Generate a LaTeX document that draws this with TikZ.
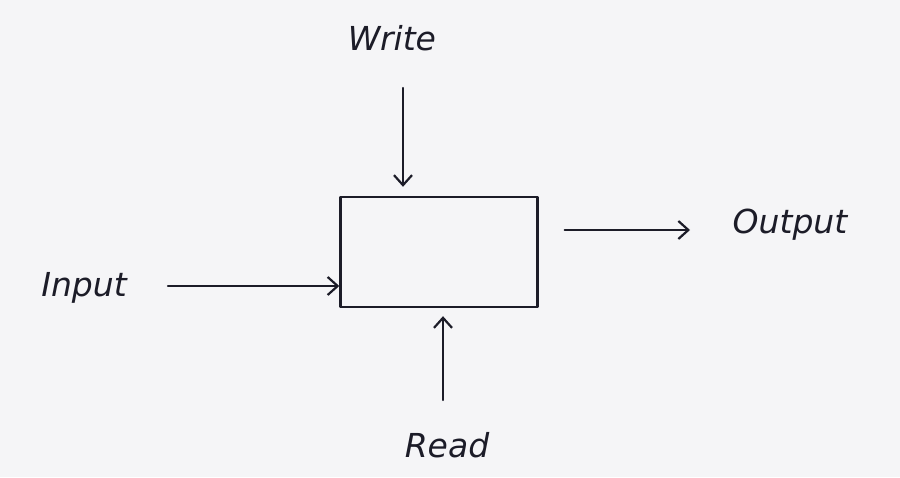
\documentclass[tikz,border=0pt]{standalone}
\usepackage{fontspec}
\setmainfont{DejaVu Sans}
\usetikzlibrary{arrows.meta}
\definecolor{paper}{HTML}{F5F5F7}
\definecolor{ink}{HTML}{1C1C28}
\begin{document}
\begin{tikzpicture}[x=1pt,y=1pt,
  ink line/.style={draw=ink, line width=2.4pt, line cap=round, line join=round},
  flow/.style={ink line, -{Straight Barb[length=10pt,width=18pt,line width=2.2pt]}},
  label/.style={text=ink, font=\fontsize{33}{38}\selectfont\itshape, inner sep=0pt}]
  % page with its margins
  \fill[paper] (0,0) rectangle (900,477);
  \useasboundingbox (0,0) rectangle (900,477);

  % the storage block
  \node[ink line, minimum width=197pt, minimum height=110pt, inner sep=0pt] (box) at (439,225) {};

  % labels
  \node[label] (write) at (392,439) {Write};
  \node[label] (input) at (84,189) {Input};
  \node[label] (output) at (790,252) {Output};
  \node[label] (read) at (447,32) {Read};

  % free ends of the signals
  \coordinate (wtop) at (403,389);
  \coordinate (rbot) at (443,77);
  \coordinate (inend) at (168,191);
  \coordinate (outend) at (690,247);

  % connectors
  \draw[flow, shorten >=9pt] (wtop) -- (wtop |- box.north);
  \draw[flow, shorten >=8pt] (rbot) -- (rbot |- box.south);
  \draw[flow] (inend) -- (box.west |- inend);
  \draw[flow, shorten <=26pt] (box.east |- outend) -- (outend);
\end{tikzpicture}
\end{document}
